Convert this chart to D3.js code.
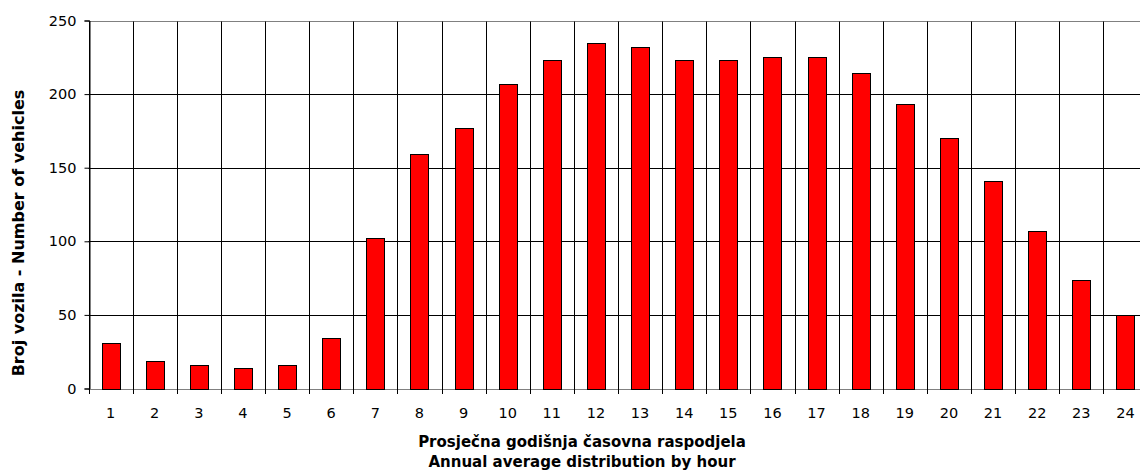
<!DOCTYPE html>
<html>
<head>
<meta charset="utf-8">
<script src="https://cdn.jsdelivr.net/npm/d3@7"></script>
<style>
  html, body { margin: 0; padding: 0; background: #fff; overflow: hidden; }
  svg { display: block; }
  text { font-family: "DejaVu Sans", Verdana, sans-serif; fill: #000; }
</style>
</head>
<body>
<svg id="chart" width="1140" height="470"></svg>
<script>
const hours = ["1","2","3","4","5","6","7","8","9","10","11","12","13","14","15","16","17","18","19","20","21","22","23","24"];
const vehicles = [31, 19, 16, 14, 16, 34, 102, 159, 177, 207, 223, 235, 232, 223, 223, 225, 225, 214, 193, 170, 141, 107, 74, 50];
const yTicks = [0, 50, 100, 150, 200, 250];
const xTitle1 = "Prosječna godišnja časovna raspodjela";
const xTitle2 = "Annual average distribution by hour";
const yTitle = "Broj vozila - Number of vehicles";

const svg = d3.select("#chart");
const pLeft = 88.5, pRight = 1147.5, pTop = 20.5, pBottom = 388.5;

const x = d3.scaleBand().domain(hours).range([pLeft, pRight]).padding(0);
const y = d3.scaleLinear().domain([0, 250]).range([pBottom, pTop]);

// horizontal gridlines
svg.append("g").selectAll("line").data(yTicks).join("line")
  .attr("x1", pLeft).attr("x2", pRight)
  .attr("y1", d => Math.round(y(d)) + 0.5).attr("y2", d => Math.round(y(d)) + 0.5)
  .attr("stroke", d => (d === 0 || d === 250) ? "#808080" : "#000")
  .attr("stroke-width", 1);

// vertical category separators (gridlines + ticks below)
const bounds = hours.map(h => x(h));
svg.append("g").selectAll("line").data(bounds).join("line")
  .attr("x1", d => Math.round(d) + 0.5).attr("x2", d => Math.round(d) + 0.5)
  .attr("y1", Math.round(pTop) + 0.5).attr("y2", Math.round(pBottom) + 5)
  .attr("stroke", "#000").attr("stroke-width", 1);

// y axis
const yAxis = d3.axisLeft(y).tickValues(yTicks).tickSize(5).tickPadding(8);
const gy = svg.append("g").attr("transform", `translate(${Math.round(pLeft) + 0.5},0)`).call(yAxis);
gy.select(".domain").attr("stroke", "#000");
gy.selectAll(".tick line").attr("stroke", "#000");
gy.selectAll(".tick text").style("font-size", "14.5px").style("font-family", "DejaVu Sans, sans-serif");

// x axis labels
const xAxis = d3.axisBottom(x).tickSize(0).tickPadding(18.5);
const gx = svg.append("g").attr("transform", `translate(0,${Math.round(pBottom) + 0.5})`).call(xAxis);
gx.select(".domain").remove();
gx.selectAll(".tick text").style("font-size", "14.5px").style("font-family", "DejaVu Sans, sans-serif");

// bars
const barW = x.bandwidth() * 0.41;
svg.append("g").selectAll("rect").data(vehicles).join("rect")
  .attr("x", (d, i) => Math.round(x(hours[i]) + x.bandwidth() / 2 - barW / 2) + 0.5)
  .attr("width", Math.round(barW))
  .attr("y", d => Math.round(y(d)) + 0.5)
  .attr("height", d => Math.round(y(0)) - Math.round(y(d)))
  .attr("fill", "#ff0000").attr("stroke", "#000").attr("stroke-width", 1);

// axis titles
svg.append("text").attr("x", 582).attr("y", 447).attr("text-anchor", "middle")
  .style("font-size", "15px").style("font-weight", "bold").text(xTitle1);
svg.append("text").attr("x", 582).attr("y", 467).attr("text-anchor", "middle")
  .style("font-size", "15px").style("font-weight", "bold").text(xTitle2);
svg.append("text").attr("transform", "translate(24,233) rotate(-90)").attr("text-anchor", "middle")
  .style("font-size", "16px").style("font-weight", "bold").text(yTitle);
</script>
</body>
</html>
